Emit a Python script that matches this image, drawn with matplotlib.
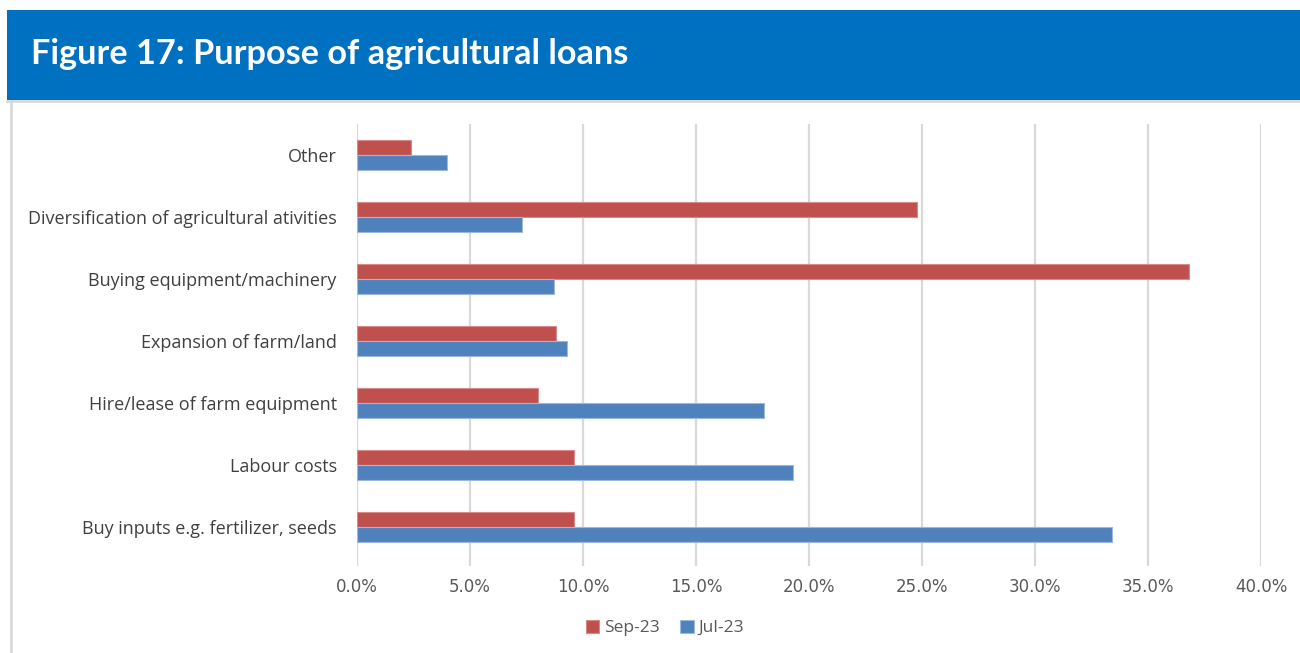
import matplotlib
matplotlib.use("Agg")
import matplotlib.pyplot as plt
import numpy as np
from matplotlib.patches import Rectangle
from matplotlib.lines import Line2D
from matplotlib.ticker import FuncFormatter, MultipleLocator

# Purpose of agricultural loans, share of borrowers (%)
categories = [
    "Buy inputs e.g. fertilizer, seeds",
    "Labour costs",
    "Hire/lease of farm equipment",
    "Expansion of farm/land",
    "Buying equipment/machinery",
    "Diversification of agricultural ativities",
    "Other",
]
sep_23 = [9.6, 9.6, 8.0, 8.8, 36.8, 24.8, 2.4]
jul_23 = [33.4, 19.3, 18.0, 9.3, 8.7, 7.3, 4.0]
series_names = ["Sep-23", "Jul-23"]

RED = "#C0504D"
BLUE = "#4F81BD"
BANNER = "#0070C0"
GRID = "#D9D9D9"
TEXT = "#595959"

W, H = 1300, 653
fig = plt.figure(figsize=(W / 100, H / 100), dpi=100)
fig.patch.set_facecolor("white")

# title banner + frame lines
fig.patches.append(Rectangle((7 / W, 1 - 100 / H), 1, 90 / H, transform=fig.transFigure,
                             facecolor=BANNER, edgecolor="none", zorder=0))
fig.lines.append(Line2D([7 / W, 1], [1 - 101 / H, 1 - 101 / H], transform=fig.transFigure,
                        color=GRID, linewidth=2))
fig.lines.append(Line2D([11 / W, 11 / W], [0, 1 - 101 / H], transform=fig.transFigure,
                        color=GRID, linewidth=2))
fig.text(31 / W, 1 - 54 / H, "Figure 17: Purpose of agricultural loans", color="white",
         fontsize=24.7, fontweight="bold", family="Lato", va="center", ha="left")

ax = fig.add_axes([357 / W, 1 - 566 / H, 904 / W, 442 / H])
y = np.arange(len(categories))
h = 0.235
ax.barh(y + h / 2, sep_23, height=h, color=RED, edgecolor="#D98A88", linewidth=0.8,
        label=series_names[0], zorder=3)
ax.barh(y - h / 2, jul_23, height=h, color=BLUE, edgecolor="#9DB8DE", linewidth=0.8,
        label=series_names[1], zorder=3)

ax.set_xlim(0, 40)
ax.set_ylim(-0.63, len(categories) - 0.5)
ax.xaxis.set_major_locator(MultipleLocator(5))
ax.xaxis.set_major_formatter(FuncFormatter(lambda v, _: f"{v:.1f}%"))
ax.grid(axis="x", color=GRID, linewidth=1.6, zorder=0)
for s in ax.spines.values():
    s.set_visible(False)
ax.tick_params(length=0)
ax.tick_params(axis="x", pad=9, labelsize=12, labelcolor=TEXT)
ax.tick_params(axis="y", pad=14.5, labelsize=13, labelcolor="#404040")
ax.set_yticks(y)
ax.set_yticklabels(categories, family="Open Sans", va="center_baseline")
for t in ax.get_xticklabels():
    t.set_family("DejaVu Sans")

ax.legend(loc="center", bbox_to_anchor=(665 / W, 1 - 628 / H), bbox_transform=fig.transFigure,
          ncol=2, frameon=False, handlelength=0.75, handleheight=0.75, handletextpad=0.3,
          columnspacing=1.2, prop={"family": "Open Sans", "size": 12.5}, labelcolor=TEXT)

fig.savefig("out.png", dpi=100, facecolor="white")
